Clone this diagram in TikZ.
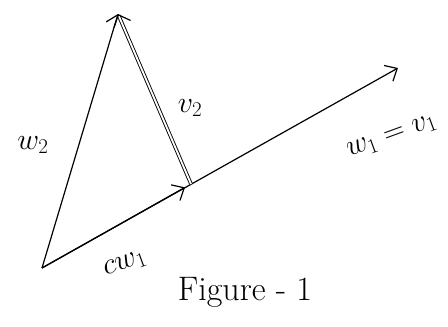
\RequirePackage{fix-cm}
\documentclass[tikz,border=0pt]{standalone}
\usetikzlibrary{arrows.meta,calc}
\begin{document}
\begin{tikzpicture}[x=1pt,y=-1pt,
  vec/.style={line width=1.2pt, -{Straight Barb[length=10pt,width=18pt,line width=1.2pt]}},
  dvec/.style={line width=0.9pt, double distance=1.8pt, -{Straight Barb[length=10pt,width=18pt,line width=1.2pt]}},
  lbl/.style={font=\fontsize{30}{32}\selectfont, inner sep=0pt}]
\useasboundingbox (0,0) rectangle (448,327);
\coordinate (O) at (42,268);
\coordinate (A) at (118,14);
\coordinate (F) at (191,184);
\coordinate (W) at (398,68);
\draw[vec] (O) -- (W);
\draw[vec] (O) -- ($(O)!0.96!(F)$);
\draw[vec] (O) -- (A);
\draw[dvec] (F) -- (A);
\node[lbl] (lw2) at (33,145) {$w_2$};
\node[lbl] (lv2) at (190,108) {$v_2$};
\node[lbl, rotate=20] (lw1) at (392,137) {$w_1 = v_1$};
\node[lbl, rotate=20] (lcw) at (125,264) {$c w_1$};
\node[lbl, font=\fontsize{34}{36}\selectfont] (lfig) at (245,292) {Figure - 1};
\end{tikzpicture}
\end{document}
